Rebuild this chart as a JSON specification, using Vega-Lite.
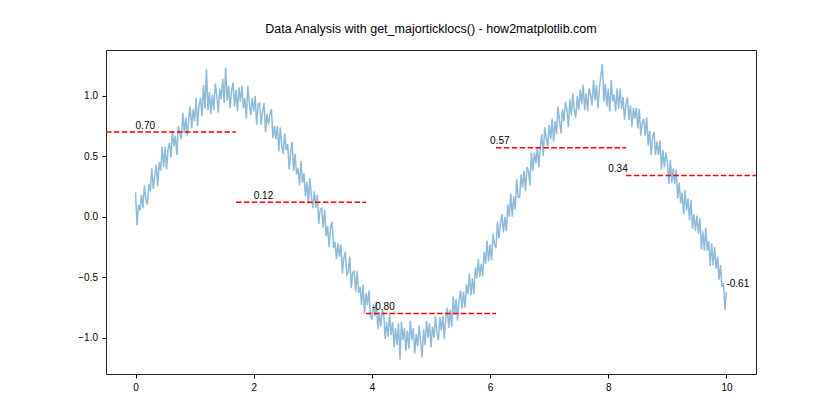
{
  "$schema": "https://vega.github.io/schema/vega-lite/v6.json",
  "width": 650,
  "height": 324,
  "autosize": {"type": "none"},
  "padding": {"left": 106, "top": 50, "right": 84, "bottom": 46},
  "background": "white",
  "title": {"text": "Data Analysis with get_majorticklocs() - how2matplotlib.com", "font": "Liberation Sans", "fontSize": 12.5, "fontWeight": "normal", "color": "#000", "anchor": "middle", "baseline": "alphabetic", "offset": 5},
  "config": {
    "view": {"stroke": "#222", "strokeWidth": 1},
    "axis": {"domain": false, "grid": false, "ticks": true, "tickColor": "#000", "tickSize": 4, "labelFont": "Liberation Sans", "labelFontSize": 10, "labelColor": "#000", "labelPadding": 4.5, "title": null}
  },
  "datasets": {
    "signal": [
      {"x":0,"y":0.20},{"x":0.025,"y":-0.07},{"x":0.05,"y":0.10},{"x":0.075,"y":0.05},
      {"x":0.1,"y":0.18},{"x":0.125,"y":0.07},{"x":0.15,"y":0.26},{"x":0.175,"y":0.15},
      {"x":0.2,"y":0.10},{"x":0.225,"y":0.27},{"x":0.25,"y":0.21},{"x":0.275,"y":0.40},
      {"x":0.3,"y":0.23},{"x":0.325,"y":0.34},{"x":0.35,"y":0.43},{"x":0.375,"y":0.25},
      {"x":0.4,"y":0.45},{"x":0.425,"y":0.38},{"x":0.45,"y":0.58},{"x":0.475,"y":0.41},
      {"x":0.5,"y":0.58},{"x":0.525,"y":0.39},{"x":0.55,"y":0.56},{"x":0.575,"y":0.61},
      {"x":0.6,"y":0.49},{"x":0.625,"y":0.71},{"x":0.65,"y":0.58},{"x":0.675,"y":0.67},
      {"x":0.7,"y":0.51},{"x":0.725,"y":0.75},{"x":0.75,"y":0.69},{"x":0.775,"y":0.64},
      {"x":0.8,"y":0.86},{"x":0.825,"y":0.69},{"x":0.85,"y":0.82},{"x":0.875,"y":0.67},
      {"x":0.9,"y":0.81},{"x":0.925,"y":0.91},{"x":0.95,"y":0.73},{"x":0.975,"y":0.89},
      {"x":1.0,"y":0.79},{"x":1.025,"y":0.98},{"x":1.05,"y":0.75},{"x":1.075,"y":0.92},
      {"x":1.1,"y":0.98},{"x":1.125,"y":0.83},{"x":1.15,"y":1.09},{"x":1.175,"y":0.89},
      {"x":1.2,"y":1.22},{"x":1.225,"y":0.88},{"x":1.25,"y":1.03},{"x":1.275,"y":0.85},
      {"x":1.3,"y":1.01},{"x":1.325,"y":0.88},{"x":1.35,"y":1.10},{"x":1.375,"y":1.00},
      {"x":1.4,"y":0.86},{"x":1.425,"y":1.06},{"x":1.45,"y":0.97},{"x":1.475,"y":1.14},
      {"x":1.5,"y":0.94},{"x":1.525,"y":1.23},{"x":1.55,"y":0.96},{"x":1.575,"y":1.08},
      {"x":1.6,"y":0.90},{"x":1.625,"y":1.04},{"x":1.65,"y":1.11},{"x":1.675,"y":0.91},
      {"x":1.7,"y":1.05},{"x":1.725,"y":0.87},{"x":1.75,"y":1.07},{"x":1.775,"y":0.95},
      {"x":1.8,"y":1.08},{"x":1.825,"y":0.90},{"x":1.85,"y":0.98},{"x":1.875,"y":0.81},
      {"x":1.9,"y":1.08},{"x":1.925,"y":0.94},{"x":1.95,"y":0.84},{"x":1.975,"y":0.98},
      {"x":2.0,"y":0.87},{"x":2.025,"y":1.00},{"x":2.05,"y":0.76},{"x":2.075,"y":0.93},
      {"x":2.1,"y":0.94},{"x":2.125,"y":0.76},{"x":2.15,"y":0.87},{"x":2.175,"y":0.94},
      {"x":2.2,"y":0.70},{"x":2.225,"y":0.85},{"x":2.25,"y":0.76},{"x":2.275,"y":0.85},
      {"x":2.3,"y":0.89},{"x":2.325,"y":0.65},{"x":2.35,"y":0.75},{"x":2.375,"y":0.64},
      {"x":2.4,"y":0.75},{"x":2.425,"y":0.54},{"x":2.45,"y":0.74},{"x":2.475,"y":0.59},
      {"x":2.5,"y":0.52},{"x":2.525,"y":0.69},{"x":2.55,"y":0.55},{"x":2.575,"y":0.60},
      {"x":2.6,"y":0.39},{"x":2.625,"y":0.53},{"x":2.65,"y":0.62},{"x":2.675,"y":0.38},
      {"x":2.7,"y":0.52},{"x":2.725,"y":0.35},{"x":2.75,"y":0.40},{"x":2.775,"y":0.26},
      {"x":2.8,"y":0.46},{"x":2.825,"y":0.28},{"x":2.85,"y":0.36},{"x":2.875,"y":0.17},
      {"x":2.9,"y":0.29},{"x":2.925,"y":0.11},{"x":2.95,"y":0.32},{"x":2.975,"y":0.17},
      {"x":3.0,"y":0.07},{"x":3.025,"y":0.21},{"x":3.05,"y":0.07},{"x":3.075,"y":0.18},
      {"x":3.1,"y":-0.06},{"x":3.125,"y":0.06},{"x":3.15,"y":0.07},{"x":3.175,"y":-0.09},
      {"x":3.2,"y":0.06},{"x":3.225,"y":-0.16},{"x":3.25,"y":-0.08},{"x":3.275,"y":-0.25},
      {"x":3.3,"y":-0.09},{"x":3.325,"y":-0.04},{"x":3.35,"y":-0.26},{"x":3.375,"y":-0.21},
      {"x":3.4,"y":-0.35},{"x":3.425,"y":-0.22},{"x":3.45,"y":-0.33},{"x":3.475,"y":-0.23},
      {"x":3.5,"y":-0.47},{"x":3.525,"y":-0.34},{"x":3.55,"y":-0.29},{"x":3.575,"y":-0.48},
      {"x":3.6,"y":-0.46},{"x":3.625,"y":-0.33},{"x":3.65,"y":-0.59},{"x":3.675,"y":-0.46},
      {"x":3.7,"y":-0.45},{"x":3.725,"y":-0.62},{"x":3.75,"y":-0.45},{"x":3.775,"y":-0.63},
      {"x":3.8,"y":-0.58},{"x":3.825,"y":-0.73},{"x":3.85,"y":-0.56},{"x":3.875,"y":-0.80},
      {"x":3.9,"y":-0.63},{"x":3.925,"y":-0.73},{"x":3.95,"y":-0.61},{"x":3.975,"y":-0.82},
      {"x":4.0,"y":-0.85},{"x":4.025,"y":-0.72},{"x":4.05,"y":-0.82},{"x":4.075,"y":-0.70},
      {"x":4.1,"y":-0.93},{"x":4.125,"y":-0.79},{"x":4.15,"y":-0.91},{"x":4.175,"y":-0.77},
      {"x":4.2,"y":-0.80},{"x":4.225,"y":-1.01},{"x":4.25,"y":-0.87},{"x":4.275,"y":-0.99},
      {"x":4.3,"y":-0.80},{"x":4.325,"y":-0.98},{"x":4.35,"y":-0.87},{"x":4.375,"y":-1.08},
      {"x":4.4,"y":-0.92},{"x":4.425,"y":-1.06},{"x":4.45,"y":-0.88},{"x":4.475,"y":-1.18},
      {"x":4.5,"y":-0.87},{"x":4.525,"y":-1.02},{"x":4.55,"y":-0.92},{"x":4.575,"y":-1.11},
      {"x":4.6,"y":-0.94},{"x":4.625,"y":-1.09},{"x":4.65,"y":-0.86},{"x":4.675,"y":-1.02},
      {"x":4.7,"y":-0.92},{"x":4.725,"y":-1.13},{"x":4.75,"y":-0.97},{"x":4.775,"y":-1.07},
      {"x":4.8,"y":-0.90},{"x":4.825,"y":-1.04},{"x":4.85,"y":-1.16},{"x":4.875,"y":-0.93},
      {"x":4.9,"y":-1.06},{"x":4.925,"y":-0.86},{"x":4.95,"y":-1.00},{"x":4.975,"y":-0.88},
      {"x":5.0,"y":-1.08},{"x":5.025,"y":-0.91},{"x":5.05,"y":-1.00},{"x":5.075,"y":-0.82},
      {"x":5.1,"y":-0.96},{"x":5.125,"y":-1.02},{"x":5.15,"y":-0.83},{"x":5.175,"y":-0.94},
      {"x":5.2,"y":-0.82},{"x":5.225,"y":-1.01},{"x":5.25,"y":-0.84},{"x":5.275,"y":-0.75},
      {"x":5.3,"y":-0.92},{"x":5.325,"y":-0.77},{"x":5.35,"y":-0.91},{"x":5.375,"y":-0.66},
      {"x":5.4,"y":-0.81},{"x":5.425,"y":-0.68},{"x":5.45,"y":-0.86},{"x":5.475,"y":-0.69},
      {"x":5.5,"y":-0.61},{"x":5.525,"y":-0.76},{"x":5.55,"y":-0.62},{"x":5.575,"y":-0.75},
      {"x":5.6,"y":-0.56},{"x":5.625,"y":-0.64},{"x":5.65,"y":-0.47},{"x":5.675,"y":-0.65},
      {"x":5.7,"y":-0.51},{"x":5.725,"y":-0.64},{"x":5.75,"y":-0.42},{"x":5.775,"y":-0.51},
      {"x":5.8,"y":-0.35},{"x":5.825,"y":-0.50},{"x":5.85,"y":-0.39},{"x":5.875,"y":-0.49},
      {"x":5.9,"y":-0.29},{"x":5.925,"y":-0.39},{"x":5.95,"y":-0.20},{"x":5.975,"y":-0.37},
      {"x":6.0,"y":-0.23},{"x":6.025,"y":-0.36},{"x":6.05,"y":-0.14},{"x":6.075,"y":-0.23},
      {"x":6.1,"y":-0.26},{"x":6.125,"y":-0.04},{"x":6.15,"y":-0.18},{"x":6.175,"y":-0.05},
      {"x":6.2,"y":0.02},{"x":6.225,"y":-0.13},{"x":6.25,"y":0.00},{"x":6.275,"y":-0.12},
      {"x":6.3,"y":0.10},{"x":6.325,"y":0.00},{"x":6.35,"y":0.19},{"x":6.375,"y":0.00},
      {"x":6.4,"y":0.17},{"x":6.425,"y":0.06},{"x":6.45,"y":0.31},{"x":6.475,"y":0.16},
      {"x":6.5,"y":0.16},{"x":6.525,"y":0.35},{"x":6.55,"y":0.24},{"x":6.575,"y":0.38},
      {"x":6.6,"y":0.21},{"x":6.625,"y":0.41},{"x":6.65,"y":0.38},{"x":6.675,"y":0.26},
      {"x":6.7,"y":0.53},{"x":6.725,"y":0.38},{"x":6.75,"y":0.53},{"x":6.775,"y":0.44},
      {"x":6.8,"y":0.58},{"x":6.825,"y":0.41},{"x":6.85,"y":0.58},{"x":6.875,"y":0.68},
      {"x":6.9,"y":0.50},{"x":6.925,"y":0.74},{"x":6.95,"y":0.65},{"x":6.975,"y":0.58},
      {"x":7.0,"y":0.76},{"x":7.025,"y":0.64},{"x":7.05,"y":0.81},{"x":7.075,"y":0.62},
      {"x":7.1,"y":0.79},{"x":7.125,"y":0.68},{"x":7.15,"y":0.91},{"x":7.175,"y":0.79},
      {"x":7.2,"y":0.69},{"x":7.225,"y":0.89},{"x":7.25,"y":0.79},{"x":7.275,"y":0.95},
      {"x":7.3,"y":0.89},{"x":7.325,"y":0.74},{"x":7.35,"y":0.97},{"x":7.375,"y":0.84},
      {"x":7.4,"y":1.02},{"x":7.425,"y":0.88},{"x":7.45,"y":0.82},{"x":7.475,"y":1.00},
      {"x":7.5,"y":0.88},{"x":7.525,"y":1.05},{"x":7.55,"y":0.93},{"x":7.575,"y":1.09},
      {"x":7.6,"y":0.88},{"x":7.625,"y":1.02},{"x":7.65,"y":0.87},{"x":7.675,"y":1.06},
      {"x":7.7,"y":1.01},{"x":7.725,"y":0.92},{"x":7.75,"y":1.13},{"x":7.775,"y":0.96},
      {"x":7.8,"y":1.09},{"x":7.825,"y":0.90},{"x":7.85,"y":1.06},{"x":7.875,"y":1.17},
      {"x":7.9,"y":1.26},{"x":7.925,"y":0.95},{"x":7.95,"y":1.10},{"x":7.975,"y":0.91},
      {"x":8.0,"y":1.06},{"x":8.025,"y":0.87},{"x":8.05,"y":1.13},{"x":8.075,"y":0.95},
      {"x":8.1,"y":1.01},{"x":8.125,"y":0.87},{"x":8.15,"y":1.06},{"x":8.175,"y":0.89},
      {"x":8.2,"y":1.06},{"x":8.225,"y":0.89},{"x":8.25,"y":0.99},{"x":8.275,"y":0.80},
      {"x":8.3,"y":0.93},{"x":8.325,"y":0.99},{"x":8.35,"y":0.80},{"x":8.375,"y":0.92},
      {"x":8.4,"y":0.74},{"x":8.425,"y":0.90},{"x":8.45,"y":0.81},{"x":8.475,"y":0.90},
      {"x":8.5,"y":0.73},{"x":8.525,"y":0.89},{"x":8.55,"y":0.67},{"x":8.575,"y":0.78},
      {"x":8.6,"y":0.81},{"x":8.625,"y":0.67},{"x":8.65,"y":0.82},{"x":8.675,"y":0.59},
      {"x":8.7,"y":0.71},{"x":8.725,"y":0.51},{"x":8.75,"y":0.66},{"x":8.775,"y":0.70},
      {"x":8.8,"y":0.51},{"x":8.825,"y":0.62},{"x":8.85,"y":0.51},{"x":8.875,"y":0.63},
      {"x":8.9,"y":0.39},{"x":8.925,"y":0.55},{"x":8.95,"y":0.41},{"x":8.975,"y":0.53},
      {"x":9.0,"y":0.45},{"x":9.025,"y":0.27},{"x":9.05,"y":0.47},{"x":9.075,"y":0.28},
      {"x":9.1,"y":0.40},{"x":9.125,"y":0.27},{"x":9.15,"y":0.39},{"x":9.175,"y":0.15},
      {"x":9.2,"y":0.28},{"x":9.225,"y":0.11},{"x":9.25,"y":0.20},{"x":9.275,"y":0.02},
      {"x":9.3,"y":0.22},{"x":9.325,"y":0.05},{"x":9.35,"y":0.15},{"x":9.375,"y":-0.03},
      {"x":9.4,"y":0.14},{"x":9.425,"y":-0.10},{"x":9.45,"y":0.02},{"x":9.475,"y":-0.12},
      {"x":9.5,"y":0.01},{"x":9.525,"y":-0.14},{"x":9.55,"y":-0.01},{"x":9.575,"y":-0.27},
      {"x":9.6,"y":-0.12},{"x":9.625,"y":-0.28},{"x":9.65,"y":-0.09},{"x":9.675,"y":-0.28},
      {"x":9.7,"y":-0.20},{"x":9.725,"y":-0.41},{"x":9.75,"y":-0.22},{"x":9.775,"y":-0.40},
      {"x":9.8,"y":-0.25},{"x":9.825,"y":-0.43},{"x":9.85,"y":-0.33},{"x":9.875,"y":-0.52},
      {"x":9.9,"y":-0.40},{"x":9.925,"y":-0.58},{"x":9.95,"y":-0.55},{"x":9.975,"y":-0.77},
      {"x":10.0,"y":-0.62}
    ],
    "means": [
      {"x1": -0.5, "x2": 1.7, "m": 0.70},
      {"x1": 1.7, "x2": 3.9, "m": 0.12},
      {"x1": 3.9, "x2": 6.1, "m": -0.80},
      {"x1": 6.1, "x2": 8.3, "m": 0.57},
      {"x1": 8.3, "x2": 10.5, "m": 0.34}
    ],
    "labels": [
      {"t": 0, "m": 0.70, "label": "0.70"},
      {"t": 2, "m": 0.12, "label": "0.12"},
      {"t": 4, "m": -0.80, "label": "-0.80"},
      {"t": 6, "m": 0.57, "label": "0.57"},
      {"t": 8, "m": 0.34, "label": "0.34"},
      {"t": 10, "m": -0.61, "label": "-0.61"}
    ]
  },
  "layer": [
    {
      "data": {"name": "signal"},
      "mark": {"type": "line", "color": "#1f77b4", "opacity": 0.5, "strokeWidth": 1.5, "clip": true},
      "encoding": {
        "x": {"field": "x", "type": "quantitative", "scale": {"domain": [-0.5, 10.5], "nice": false, "zero": false}, "axis": {"values": [0, 2, 4, 6, 8, 10], "format": "d"}},
        "y": {"field": "y", "type": "quantitative", "scale": {"domain": [-1.3, 1.378], "nice": false, "zero": false}, "axis": {"values": [-1, -0.5, 0, 0.5, 1], "format": ".1f"}}
      }
    },
    {
      "data": {"name": "means"},
      "mark": {"type": "rule", "color": "#ff0000", "strokeWidth": 1.5, "strokeDash": [5.5, 2.4]},
      "encoding": {
        "x": {"field": "x1", "type": "quantitative"},
        "x2": {"field": "x2"},
        "y": {"field": "m", "type": "quantitative"}
      }
    },
    {
      "data": {"name": "labels"},
      "mark": {"type": "text", "align": "left", "baseline": "alphabetic", "dy": -3.5, "font": "Liberation Sans", "fontSize": 10, "color": "#000"},
      "encoding": {
        "x": {"field": "t", "type": "quantitative"},
        "y": {"field": "m", "type": "quantitative"},
        "text": {"field": "label"}
      }
    }
  ]
}
